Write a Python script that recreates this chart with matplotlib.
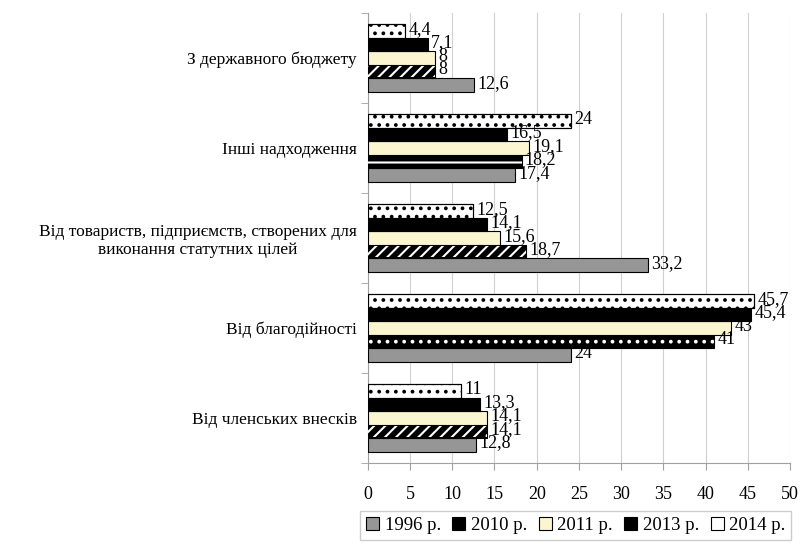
import numpy as np
import matplotlib
matplotlib.use("Agg")
import matplotlib.pyplot as plt
from matplotlib.patches import Patch

plt.rcParams['font.family'] = ['Liberation Serif', 'DejaVu Serif']
plt.rcParams['hatch.linewidth'] = 1.5

# === データ ===
categories = [
    "Від членських внесків",
    "Від благодійності",
    "Від товариств, підприємств, створених для\nвиконання статутних цілей",
    "Інші надходження",
    "З державного бюджету",
]
years = ["1996 р.", "2010 р.", "2011 р.", "2013 р.", "2014 р."]
v1996 = [12.8, 24, 33.2, 17.4, 12.6]
v2010 = [13.3, 45.4, 14.1, 16.5, 7.1]
v2011 = [14.1, 43, 15.6, 19.1, 8]
v2013 = [14.1, 41, 18.7, 18.2, 8]
v2014 = [11, 45.7, 12.5, 24, 4.4]

# 各グループ内の下から上への並び
order = [("1996 р.", v1996), ("2013 р.", v2013), ("2011 р.", v2011),
         ("2010 р.", v2010), ("2014 р.", v2014)]
face = {"1996 р.": "#969696", "2010 р.": "#000000", "2011 р.": "#FBF6CF",
        "2013 р.": "#000000", "2014 р.": "#FFFFFF"}
hatch2013 = ["///", "..", "///", "--", "///"]


def fmt(v):
    return f"{v:g}".replace(".", ",")


fig = plt.figure(figsize=(8.03, 5.49), dpi=100)
ax = fig.add_axes([0.458, 0.157, 0.526, 0.819])

y = np.arange(len(categories))
h = 0.15
for i, (name, vals) in enumerate(order):
    pos = y - 2 * h + i * h
    ax.barh(pos, vals, height=h, color=face[name], edgecolor="#000000", lw=0.8, zorder=3)
    if name == "2013 р.":
        for p, v, ht in zip(pos, vals, hatch2013):
            ax.barh(p, v, height=h * 0.8, color="none", edgecolor="white", hatch=ht,
                    lw=0, zorder=4)
    if name == "2014 р.":
        ax.barh(pos, vals, height=h, color="none", edgecolor="black", hatch="..",
                lw=0.8, zorder=4)
    for p, v in zip(pos, vals):
        ax.text(v + 0.4, p + 0.02, fmt(v), va="center", ha="left", fontsize=13, zorder=5)

ax.set_xlim(0, 50)
ax.set_ylim(-0.5, 4.5)
ax.set_xticks(np.arange(0, 51, 5))
ax.set_yticks(y)
ax.set_yticklabels(categories, fontsize=12.5, multialignment="center")
ax.set_yticks(np.arange(-0.5, 4.6, 1), minor=True)
ax.tick_params(axis="y", which="major", length=0, pad=8)
ax.tick_params(axis="y", which="minor", length=5, color="#A0A0A0")
ax.tick_params(axis="x", length=5, color="#A0A0A0", labelsize=13, pad=12)
ax.grid(axis="x", color="#D0D0D0", lw=0.8, zorder=0)
for s in ["top", "right"]:
    ax.spines[s].set_visible(False)
ax.spines["left"].set_color("#A0A0A0")
ax.spines["bottom"].set_color("#A0A0A0")

handles = [Patch(facecolor=face[n], edgecolor="black", lw=0.8) for n in years]
fig.legend(handles, years, loc="lower center", bbox_to_anchor=(0.717, 0.0), ncol=5,
           fontsize=13.5, handlelength=0.7, handleheight=0.7, handletextpad=0.3,
           columnspacing=0.6, frameon=True, fancybox=False, edgecolor="#C0C0C0",
           borderpad=0.3)

fig.savefig("out.png", dpi=100)
